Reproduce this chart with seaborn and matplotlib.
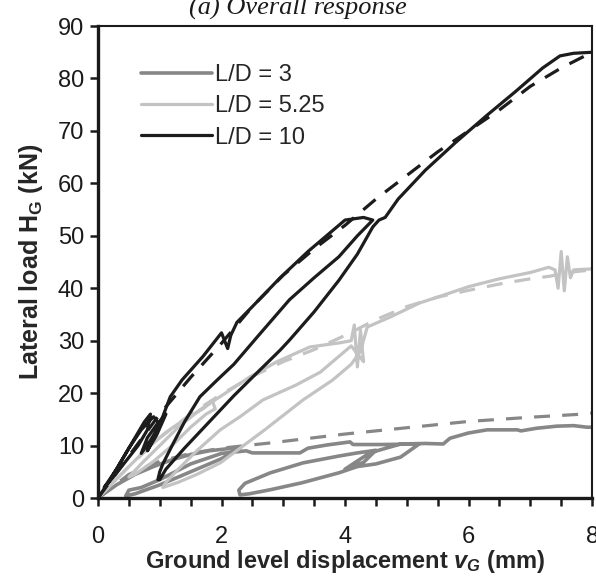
import matplotlib
matplotlib.use("Agg")
import matplotlib.pyplot as plt
import seaborn as sns
import pandas as pd

# L/D = 3 : measured cyclic response (solid) and monotonic prediction (dashed)
ld3_x = [0, 0.3, 0.6, 0.9, 1.2, 1.5, 1.8, 2.1, 2.3, 2.2, 2.0, 1.5, 1.0, 0.6, 0.45, 0.5,
         0.7, 1.0, 1.5, 2.0, 2.4, 2.5, 2.9, 3.27, 3.4, 3.7, 4.08, 4.13, 4.6, 5.2, 4.9,
         4.5, 4.2, 3.9, 3.3, 2.8, 2.45, 2.3, 2.28, 2.38, 2.79, 3.32, 3.9, 4.2, 4.5, 4.3,
         4.0, 4.4, 4.9, 5.3, 5.59, 5.7, 6.0, 6.3, 6.79, 6.85, 7.1, 7.43, 7.7, 7.92, 8.0]
ld3_y = [0, 2.5, 4.5, 6.0, 7.3, 8.3, 9.0, 9.4, 9.5, 8.9, 7.5, 5.0, 2.5, 0.8, 0.4, 1.5,
         2.0, 3.5, 6.5, 8.5, 9.0, 8.6, 8.6, 8.6, 9.5, 10.1, 10.7, 10.2, 10.2, 10.3, 7.8,
         6.5, 6.0, 4.8, 2.9, 1.6, 0.8, 0.6, 1.5, 2.8, 4.8, 6.7, 8.0, 8.6, 9.1, 6.8,
         5.5, 8.6, 10.3, 10.4, 10.3, 11.4, 12.4, 13.0, 13.0, 12.8, 13.3, 13.7, 13.8, 13.5, 13.5]
ld3_mx = [0, 0.5, 1.0, 1.5, 2.0, 2.79, 3.5, 4.0, 5.0, 6.0, 7.0, 7.85, 8.0]
ld3_my = [0, 4.5, 7.0, 8.5, 9.5, 10.5, 11.5, 12.2, 13.4, 14.6, 15.4, 16.0, 16.2]

# L/D = 5.25
ld5_x = [0, 0.25, 0.5, 0.8, 1.1, 1.4, 1.7, 1.85, 1.9, 1.75, 1.5, 1.2, 0.9, 0.6, 0.5,
         0.7, 1.0, 1.3, 1.65, 2.0, 2.46, 2.9, 3.43, 3.92, 4.1, 4.15, 4.2, 4.25, 4.3, 4.1,
         3.6, 3.2, 2.67, 2.3, 1.98, 1.6, 1.3, 1.1, 1.05, 1.3, 1.6, 1.98, 2.3, 2.7, 3.32,
         3.8, 4.1, 4.25, 4.36, 4.73, 5.21, 5.6, 6.0, 6.5, 7.0, 7.3, 7.4, 7.45, 7.5, 7.55,
         7.6, 7.65, 7.7, 8.0]
ld5_y = [0, 3.0, 6.0, 9.5, 12.5, 15.0, 17.0, 18.5, 17.0, 16.0, 13.5, 10.0, 7.0, 4.5, 4.0,
         6.5, 10.0, 13.5, 16.8, 19.5, 23.1, 26.0, 28.8, 29.6, 30.0, 33.0, 25.0, 32.0, 26.0, 29.0,
         24.0, 21.5, 18.7, 15.5, 13.0, 9.0, 5.5, 3.0, 2.0, 3.0, 4.5, 6.7, 9.5, 13.0, 18.7,
         22.5, 25.5, 28.0, 32.6, 34.5, 37.2, 38.7, 40.3, 41.8, 43.0, 44.0, 43.5, 40.0, 47.0, 39.5,
         46.0, 42.0, 43.5, 43.7]
ld5_mx = [0, 0.5, 1.0, 1.5, 2.0, 2.5, 3.0, 3.5, 4.0, 4.5, 5.0, 5.5, 6.0, 6.5, 7.0, 7.32, 7.6, 8.0]
ld5_my = [0, 6.0, 11.5, 16.0, 19.8, 23.2, 26.0, 28.3, 31.0, 34.0, 36.5, 38.3, 39.6, 40.8, 41.8, 42.3, 43.0, 43.5]

# L/D = 10
ld10_x = [0, 0.2, 0.4, 0.6, 0.75, 0.85, 0.8, 0.65, 0.45, 0.25, 0.1, 0.3, 0.5, 0.7, 0.9,
          1.0, 0.85, 0.7, 0.8, 0.95, 1.1, 0.95, 0.8, 1.0, 1.17, 1.36, 1.7, 2.0, 2.1, 2.15,
          2.25, 2.5, 2.95, 3.4, 3.8, 4.0, 4.3, 4.45, 4.2, 3.9, 3.5, 3.1, 2.6, 2.2, 1.93,
          1.65, 1.4, 1.2, 1.05, 1.0, 0.97, 1.0, 1.1, 1.4, 1.8, 2.2, 2.5, 2.95, 3.1, 3.5,
          3.9, 4.2, 4.45, 4.55, 4.65, 4.86, 5.3, 5.8, 6.3, 6.77, 7.2, 7.48, 7.7, 8.0]
ld10_y = [0, 3.5, 7.5, 11.5, 14.5, 16.0, 13.0, 10.0, 7.0, 4.0, 2.0, 5.5, 9.5, 13.0, 15.5,
          14.0, 11.0, 8.5, 11.5, 14.0, 16.0, 12.0, 9.0, 14.0, 19.3, 22.5, 27.0, 31.5, 28.5, 31.0,
          33.5, 36.5, 42.0, 47.0, 51.0, 53.0, 53.5, 53.0, 50.0, 46.0, 42.0, 37.8, 31.0, 25.5, 22.5,
          19.3, 14.5, 10.0, 6.5, 5.0, 3.5, 3.5, 5.5, 9.5, 14.5, 19.5, 23.0, 28.2, 30.1, 35.5,
          41.5, 46.5, 51.7, 53.0, 53.5, 57.0, 62.5, 67.9, 73.0, 77.6, 82.0, 84.3, 84.8, 85.0]
ld10_mx = [0, 0.5, 1.0, 1.5, 2.0, 2.5, 3.0, 3.5, 4.0, 4.5, 5.0, 5.5, 6.0, 6.5, 7.0, 7.5, 8.0]
ld10_my = [0, 8.0, 16.0, 23.0, 29.5, 36.5, 42.5, 47.5, 52.0, 57.0, 61.5, 66.0, 70.0, 74.0, 78.5, 82.0, 85.0]

labels = ["L/D = 3", "L/D = 5.25", "L/D = 10"]
colors = ["#878787", "#c3c3c3", "#1c1c1c"]
widths = [2.6, 2.3, 2.3]
tests = [(ld3_x, ld3_y), (ld5_x, ld5_y), (ld10_x, ld10_y)]
models = [(ld3_mx, ld3_my), (ld5_mx, ld5_my), (ld10_mx, ld10_my)]

sns.set_style("ticks")
plt.rcParams["font.family"] = ["Liberation Sans", "DejaVu Sans"]
plt.rcParams["mathtext.fontset"] = "custom"
plt.rcParams["mathtext.rm"] = "Liberation Sans"
plt.rcParams["mathtext.it"] = "Liberation Sans:italic:bold"
plt.rcParams["mathtext.bf"] = "Liberation Sans:bold"

fig = plt.figure(figsize=(5.96, 5.77), dpi=100)
ax = fig.add_axes([0.1644, 0.1369, 0.829, 0.818])

for (tx, ty), (mx, my), lab, col, w in zip(tests, models, labels, colors, widths):
    d = pd.DataFrame({"x": tx, "y": ty})
    sns.lineplot(data=d, x="x", y="y", sort=False, estimator=None, color=col,
                 lw=w, ax=ax, label=lab)
    m = pd.DataFrame({"x": mx, "y": my})
    sns.lineplot(data=m, x="x", y="y", sort=False, estimator=None, color=col,
                 lw=2.3, ax=ax, dashes=False, linestyle=(0, (5, 3.8)))

ax.set_xlim(0, 8)
ax.set_ylim(0, 90)
ax.set_xticks([0, 2, 4, 6, 8])
ax.set_xticks([0.5, 1, 1.5, 2.5, 3, 3.5, 4.5, 5, 5.5, 6.5, 7, 7.5], minor=True)
ax.set_yticks(range(0, 91, 10))
ax.tick_params(axis="both", which="both", direction="out", length=6, width=1.8,
               labelsize=17, colors="#1a1a1a")
ax.tick_params(axis="x", which="both", pad=14)
ax.tick_params(axis="y", which="both", pad=4)
for side in ["left", "bottom"]:
    ax.spines[side].set_linewidth(2.4)
for side in ["top", "right"]:
    ax.spines[side].set_linewidth(1.5)
for sp in ax.spines.values():
    sp.set_color("#1a1a1a")

ax.set_xlabel(r"Ground level displacement $\mathit{v}_\mathit{G}$ (mm)", fontsize=17,
              fontweight="bold", labelpad=0)
ax.set_ylabel(r"Lateral load H$_\mathbf{G}$ (kN)", fontsize=18, fontweight="bold",
              labelpad=9)

handles, labs = ax.get_legend_handles_labels()
leg = ax.legend(handles[:3], labs[:3], loc="upper left", bbox_to_anchor=(0.045, 0.965),
                frameon=False, fontsize=17, handlelength=3.0, handletextpad=0.1,
                labelspacing=0.4)

fig.text(0.5, 0.985, "(a) Overall response", ha="center", va="center", fontsize=19,
         style="italic", family=["Liberation Serif", "DejaVu Serif"], color="#1a1a1a")

fig.savefig("out.png", dpi=100)
